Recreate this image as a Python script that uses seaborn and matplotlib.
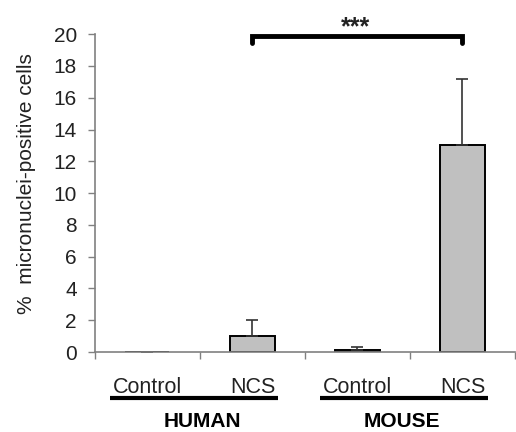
import numpy as np
import seaborn as sns
import matplotlib.pyplot as plt
from matplotlib.transforms import blended_transform_factory

# data
conditions = ["Control", "NCS", "Control", "NCS"]
species = ["HUMAN", "MOUSE"]
values = [0.0, 1.0, 0.1, 13.0]
errors = [0.0, 1.0, 0.25, 4.2]
signif_pair = (1, 3)
signif_label = "***"

sns.set_style("white")
plt.rcParams["font.family"] = ["Liberation Sans", "DejaVu Sans"]

fig = plt.figure(figsize=(5.16, 4.32), dpi=100)
ax = fig.add_axes([0.184, 0.185, 0.814, 0.736])

x = np.arange(len(values))
sns.barplot(x=x, y=values, color="#c0c0c0", edgecolor="black", linewidth=1.4,
            width=0.42, saturation=1, ax=ax, native_scale=True)
ax.errorbar(x, values, yerr=[np.zeros(len(errors)), errors], fmt="none",
            ecolor="#333333", elinewidth=1.2, capsize=4, capthick=1.2)

ax.set_xlim(-0.5, 3.5)
ax.set_ylim(0, 20)
ax.set_yticks(np.arange(0, 21, 2))
ax.tick_params(axis="y", labelsize=15, length=5, width=1, left=True, pad=8,
               color="#808080", labelcolor="#222222")
ax.set_ylabel("%  micronuclei-positive cells", fontsize=15, color="#222222")
ax.yaxis.set_label_coords(-0.14, 0.53)

# boundary ticks on x, category labels as minor ticks
ax.set_xticks(np.arange(-0.5, 4, 1))
ax.set_xticklabels([])
ax.set_xticks(x, minor=True)
ax.set_xticklabels(conditions, minor=True)
ax.tick_params(axis="x", which="major", length=5, width=1, color="#808080", bottom=True)
ax.tick_params(axis="x", which="minor", length=0, pad=18, labelsize=15.5,
               labelcolor="#222222")

for s in ["top", "right"]:
    ax.spines[s].set_visible(False)
for s in ["left", "bottom"]:
    ax.spines[s].set_color("#808080")
    ax.spines[s].set_linewidth(1.2)

# species underline and group labels
trans = blended_transform_factory(ax.transData, ax.transAxes)
for i, name in enumerate(species):
    x0, x1 = 2 * i - 0.36, 2 * i + 1.24
    ax.plot([x0, x1], [-0.145, -0.145], color="black", lw=3, transform=trans,
            clip_on=False, solid_capstyle="butt")
    ax.text(2 * i + 0.52 - 0.1 * i, -0.236, name, transform=trans, ha="center",
            va="baseline", fontsize=15, fontweight="bold", color="black")

# significance bracket
a, b = signif_pair
ax.plot([a, a, b, b], [19.45, 19.9, 19.9, 19.45], color="black", lw=3.5,
        clip_on=False, solid_joinstyle="miter")
ax.text((a + b) / 2 - 0.02, 20.0, signif_label, ha="center", va="baseline",
        fontsize=18, fontweight="bold", color="#222222")

fig.savefig("out.png", dpi=100, facecolor="white")
